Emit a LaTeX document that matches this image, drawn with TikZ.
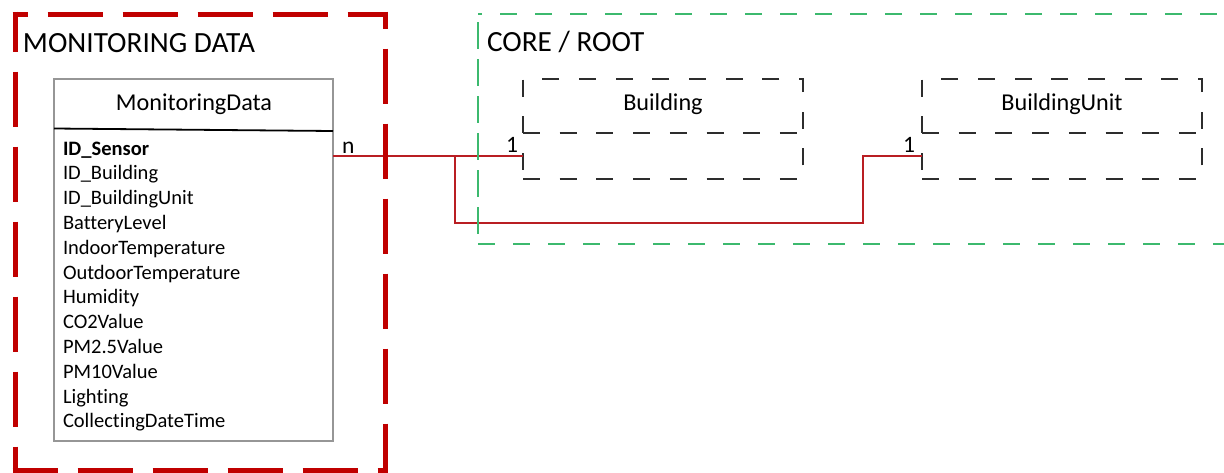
\documentclass[tikz,border=0pt]{standalone}
\usepackage{fontspec}
\setmainfont{Carlito}[Ligatures=NoCommon]
\usetikzlibrary{calc}
\definecolor{frameRed}{RGB}{192,0,0}
\definecolor{linkRed}{RGB}{185,30,35}
\definecolor{coreGreen}{RGB}{60,185,110}
\definecolor{tblGray}{RGB}{150,150,150}
\definecolor{compDark}{RGB}{45,45,45}
\begin{document}
\begin{tikzpicture}[x=1pt,y=1pt,
  redframe/.style={draw=frameRed, line width=5pt, dash pattern=on 55pt off 20pt},
  greenframe/.style={draw=coreGreen, line width=1.8pt, dash pattern=on 17pt off 18pt},
  greenside/.style={draw=coreGreen, line width=1.8pt, dash pattern=on 27pt off 10pt},
  tablebox/.style={draw=tblGray, line width=1.1pt, inner sep=0pt, outer sep=0pt},
  compbox/.style={draw=compDark, line width=1.4pt, dash pattern=on 17pt off 19.7pt, inner sep=0pt, outer sep=0pt},
  compline/.style={draw=compDark, line width=1.4pt, dash pattern=on 17pt off 19.7pt},
  plain/.style={inner sep=0pt, outer sep=0pt},
  titletext/.style={plain, anchor=base west, font=\fontsize{29.3}{34}\selectfont},
  headtext/.style={plain, anchor=base, font=\fontsize{24.2}{29}\selectfont},
  rowtext/.style={plain, anchor=base west, font=\fontsize{20.5}{25}\selectfont},
  multtext/.style={plain, font=\fontsize{23.5}{28}\selectfont},
  link/.style={draw=linkRed, line width=1.9pt}
]
\useasboundingbox (0,0) rectangle (1224,-472);
\clip (0,0) rectangle (1224,-472);

% titles
\node[titletext] (montitle) at (23,-52) {MONITORING DATA};
\node[titletext] (coretitle) at (487,-51) {CORE / ROOT};

% MonitoringData table
\node[tablebox, minimum width=279pt, minimum height=362pt] (md) at (193.5,-260) {};
\node[headtext] (mdhead) at (194,-110) {MonitoringData};
\draw[line width=1.8pt] (54,-128.5) -- (333,-131);
\node[rowtext] (r1) at (63,-155) {\textbf{ID\_Sensor}};
\foreach \t [count=\i from 2] in {ID\_Building, ID\_BuildingUnit, BatteryLevel, IndoorTemperature, OutdoorTemperature, Humidity, CO2Value, PM2.5Value, PM10Value, Lighting, CollectingDateTime}
  \node[rowtext] (r\i) at (63,{-155-24.8*(\i-1)}) {\t};

% Building
\node[compbox, minimum width=280pt, minimum height=100pt] (bld) at (663,-129) {};
\node[plain, minimum width=280pt, minimum height=46pt] (bldlow) at (663,-156) {};
\draw[compline] (bld.west |- bldlow.north) -- (bld.east |- bldlow.north);
\node[headtext] (bldname) at (663,-110) {Building};

% BuildingUnit
\node[compbox, minimum width=280pt, minimum height=100pt] (unit) at (1062,-129) {};
\node[plain, minimum width=280pt, minimum height=46pt] (unitlow) at (1062,-156) {};
\draw[compline] (unit.west |- unitlow.north) -- (unit.east |- unitlow.north);
\node[headtext] (unitname) at (1062,-110) {BuildingUnit};

% connectors
\coordinate (split) at ($(md.east |- bldlow.west)+(122,0)$);
\coordinate (jog) at ($(unitlow.west)+(-59,0)$);
\draw[link] (md.east |- bldlow.west) -- (bldlow.west);
\draw[link] (split) -- ++(0,-67) -| (jog) -- (unitlow.west);
\node[multtext, anchor=base west] (mn) at (342,-153) {n};
\node[multtext, anchor=base east] (m1a) at (518,-152) {1};
\node[multtext, anchor=base east] (m1b) at (915,-152) {1};

% red frame
\draw[redframe, dash phase=40pt] (12.5,-14) -- (387.5,-14);
\draw[redframe, dash phase=15pt] (15,-11.5) -- (15,-472);
\draw[redframe, dash phase=38pt] (385,-11.5) -- (385,-472);
\draw[redframe, dash phase=10pt] (12.5,-470) -- (387.5,-470);

% green frame
\draw[greenframe, dash phase=13pt] (478,-14) -- (1230,-14);
\draw[greenframe, dash phase=0pt] (478,-244) -- (1230,-244);
\draw[greenside, dash phase=-8pt] (478,-14) -- (478,-244);
\end{tikzpicture}
\end{document}
